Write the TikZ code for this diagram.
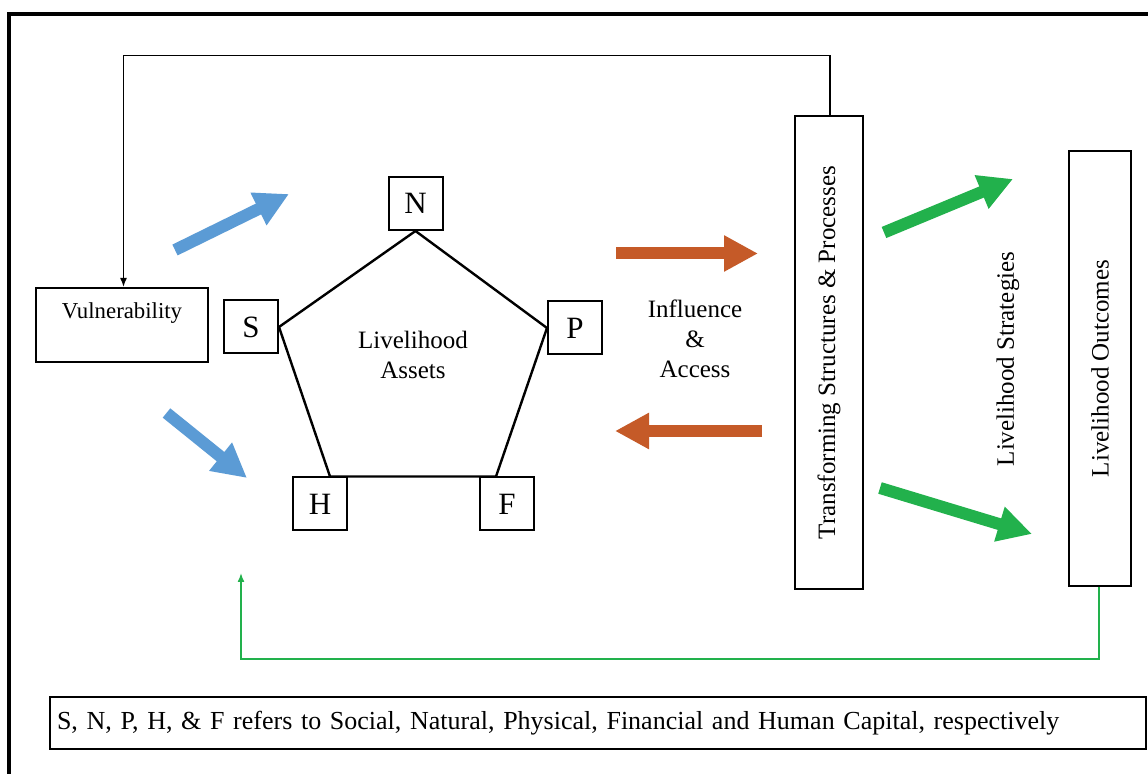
\documentclass[tikz,border=0pt]{standalone}
\usepackage{fontspec}
\setmainfont{Liberation Serif}
\usepackage{xcolor}
\usepackage{tikz}
\usetikzlibrary{arrows.meta}

\definecolor{slblue}{RGB}{91,155,213}
\definecolor{slorange}{RGB}{197,90,40}
\definecolor{slgreen}{RGB}{34,177,76}

\tikzset{
  box/.style={rectangle, draw, line width=1pt, inner sep=2pt},
  letter/.style={box, minimum width=27pt, minimum height=26.5pt, font=\fontsize{15.5}{18}\selectfont},
  fat/.style={line width=6pt, -{Triangle[width=17pt,length=17pt]}},
  feedback/.style={line width=0.75pt, -{Latex[width=3.5pt,length=4.5pt]}},
}

\begin{document}
\begin{tikzpicture}[x=0.5pt, y=-0.5pt, font=\fontsize{12.5}{15}\selectfont]
\clip (0,0) rectangle (1148,774);
\fill[white] (0,0) rectangle (1148,774);
% outer frame
\draw[line width=1.75pt] (9,800) -- (9,14) -- (1170,14);

% capitals
\node [letter] (N) at (415.5,203.5) {N};
\node [letter] (S) at (251,327) {S};
\node [letter] (P) at (575,328) {P};
\node [letter] (H) at (320,504) {H};
\node [letter] (F) at (507,504) {F};
\draw [line width=1.2pt, line join=round] (N.south) -- (P.west) -- ([xshift=-5.5pt]F.north) -- ([xshift=5pt]H.north) -- (S.east) -- cycle;
\node [align=center] (assets) at (413,355) {Livelihood\\Assets};

\node [box, minimum width=86pt, minimum height=37pt, text height=8pt, text depth=14pt, font=\fontsize{11.4}{14}\selectfont] (V) at (122,325) {Vulnerability};
\node [box, rotate=90, minimum width=236.5pt, minimum height=34pt] (T) at (829,352.5) {Transforming Structures \& Processes};
\node [box, rotate=90, minimum width=217.5pt, minimum height=31pt] (O) at (1100,368.5) {Livelihood Outcomes};
\node [rotate=90] (strat) at (1008,359) {Livelihood Strategies};
\node [align=center] (infl) at (695,339) {Influence\\\&\\Access};

\node [box, minimum width=548pt, minimum height=26pt, text width=541pt, inner xsep=3.5pt, align=left, font=\fontsize{13}{15}\selectfont] (note) at (598,723) {S, N, P, H, \& F refers to Social, Natural, Physical, Financial and Human Capital, respectively};

% feedback loops
\draw [feedback] ([xshift=0.5pt]T.east) |- (123.5,55.5) -- (V.north -| 123.5,0);
\coordinate (back) at (241,573);
\draw [feedback, slgreen] ([xshift=-0.5pt]O.west) |- (241,659) -- (back);

% fat arrows
\coordinate (b1) at (175,250); \coordinate (b1e) at (289,194);
\coordinate (b2) at (166.5,413); \coordinate (b2e) at (247,478);
\draw [fat, slblue] (b1) -- (b1e);
\draw [fat, slblue] (b2) -- (b2e);
\coordinate (o1) at (616,253.5); \coordinate (o1e) at (758,253.5);
\coordinate (o2) at (762,431); \coordinate (o2e) at (615,431);
\draw [fat, slorange] (o1) -- (o1e);
\draw [fat, slorange] (o2) -- (o2e);
\coordinate (g1) at (884,232.5); \coordinate (g1e) at (1013,179);
\coordinate (g2) at (880,488); \coordinate (g2e) at (1032,534);
\draw [fat, slgreen] (g1) -- (g1e);
\draw [fat, slgreen] (g2) -- (g2e);
\end{tikzpicture}
\end{document}
